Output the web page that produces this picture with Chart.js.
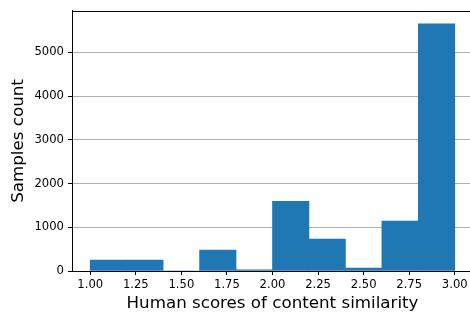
<!DOCTYPE html>
<html>
<head>
<meta charset="utf-8">
<script src="https://cdn.jsdelivr.net/npm/chart.js@4"></script>
<style>
  html, body { margin: 0; padding: 0; background: #fff; overflow: hidden; }
  #wrap { position: relative; width: 476px; height: 312px; }
</style>
</head>
<body>
<div id="wrap"><canvas id="hist"></canvas></div>
<script>
// histogram: 10 bins of width 0.2 between 1.0 and 3.0
const binEdges = [1.0, 1.2, 1.4, 1.6, 1.8, 2.0, 2.2, 2.4, 2.6, 2.8, 3.0];
const binCounts = [251, 251, 0, 479, 25, 1596, 730, 68, 1140, 5654];
const xTicks = [1.0, 1.25, 1.5, 1.75, 2.0, 2.25, 2.5, 2.75, 3.0];
const yTicks = [0, 1000, 2000, 3000, 4000, 5000];

const BLUE = '#1f77b4';
const FONT = "'DejaVu Sans', sans-serif";

const points = binCounts.map((c, i) => ({ x: (binEdges[i] + binEdges[i + 1]) / 2, y: c }));

// full axes frame (matplotlib spines)
const frame = {
  id: 'frame',
  afterDraw(chart) {
    const { ctx, chartArea: a } = chart;
    ctx.save();
    ctx.strokeStyle = '#000';
    ctx.lineWidth = 1;
    ctx.strokeRect(Math.round(a.left) + 0.5, Math.round(a.top) + 0.5,
      Math.round(a.right - a.left), Math.round(a.bottom - a.top));
    ctx.restore();
  }
};

new Chart(document.getElementById('hist'), {
  type: 'bar',
  data: {
    datasets: [{
      data: points,
      backgroundColor: BLUE,
      borderWidth: 0,
      barPercentage: 1,
      categoryPercentage: 1
    }]
  },
  options: {
    responsive: true,
    maintainAspectRatio: false,
    animation: false,
    layout: { padding: { top: 10, right: 3, left: 0, bottom: 0 } },
    plugins: { legend: { display: false }, tooltip: { enabled: false } },
    scales: {
      x: {
        type: 'linear',
        offset: false,
        min: 0.9,
        max: 3.1,
        afterBuildTicks: s => { s.ticks = xTicks.map(v => ({ value: v })); },
        afterFit: s => { s.height = 41; },
        grid: { drawOnChartArea: false, offset: false, tickLength: 4, tickColor: '#000' },
        border: { color: '#000' },
        ticks: {
          color: '#000', font: { family: FONT, size: 11.6 }, padding: 3,
          maxRotation: 0, autoSkip: false,
          callback: v => Number(v).toFixed(2)
        },
        title: { display: true, text: 'Human scores of content similarity', color: '#000',
          font: { family: FONT, size: 16.7 }, padding: { top: 0, bottom: -2 } }
      },
      y: {
        min: 0,
        max: 5950,
        z: 1,
        afterBuildTicks: s => { s.ticks = yTicks.map(v => ({ value: v })); },
        afterFit: s => { s.width = 72; },
        grid: { color: '#b0b0b0', lineWidth: 1, tickLength: 4, tickColor: '#000' },
        border: { color: '#000' },
        ticks: { color: '#000', font: { family: FONT, size: 11.6 }, padding: 4,
          callback: v => String(v) },
        title: { display: true, text: 'Samples count', color: '#000',
          font: { family: FONT, size: 16.7 }, padding: { top: 9, bottom: 0 } }
      }
    }
  },
  plugins: [frame]
});
</script>
</body>
</html>
